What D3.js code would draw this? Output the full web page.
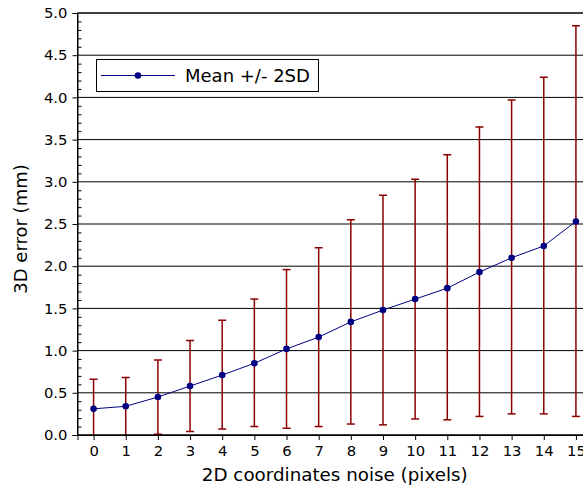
<!DOCTYPE html>
<html>
<head>
<meta charset="utf-8">
<script src="https://cdn.jsdelivr.net/npm/d3@7"></script>
<style>
  body { margin: 0; background: #fff; }
  svg { display: block; font-family: "DejaVu Sans", sans-serif; }
</style>
</head>
<body>
<svg id="chart" width="583" height="487"></svg>
<script>
// noise level (pixels)
const noise = [0, 1, 2, 3, 4, 5, 6, 7, 8, 9, 10, 11, 12, 13, 14, 15];
// mean 3D error (mm)
const meanErr = [0.31, 0.34, 0.45, 0.58, 0.71, 0.85, 1.02, 1.16, 1.34, 1.48, 1.61, 1.74, 1.93, 2.10, 2.24, 2.53];
// mean - 2SD and mean + 2SD
const lowErr = [-0.04, -0.01, 0.01, 0.04, 0.07, 0.10, 0.08, 0.10, 0.13, 0.12, 0.19, 0.18, 0.22, 0.25, 0.25, 0.22];
const highErr = [0.66, 0.68, 0.89, 1.12, 1.36, 1.61, 1.96, 2.22, 2.55, 2.84, 3.03, 3.32, 3.65, 3.97, 4.24, 4.85];
const yTicks = [0, 0.5, 1, 1.5, 2, 2.5, 3, 3.5, 4, 4.5, 5];

const margin = { left: 77.5, right: -9, top: 13, bottom: 52 };
const W = 583, H = 487;

const svg = d3.select("#chart");

const x = d3.scaleLinear()
    .domain([-0.5, 15.5])
    .range([margin.left, W - margin.right]);

const y = d3.scaleLinear()
    .domain([0, 5])
    .range([H - margin.bottom, margin.top]);

svg.append("defs").append("clipPath").attr("id", "plotclip")
  .append("rect")
    .attr("x", x.range()[0])
    .attr("y", y.range()[1])
    .attr("width", x.range()[1] - x.range()[0])
    .attr("height", y.range()[0] - y.range()[1]);

// horizontal grid
svg.append("g")
  .selectAll("line")
  .data(yTicks)
  .join("line")
    .attr("x1", x.range()[0])
    .attr("x2", x.range()[1])
    .attr("y1", d => y(d))
    .attr("y2", d => y(d))
    .attr("stroke", "#000")
    .attr("stroke-width", 1);

const plot = svg.append("g").attr("clip-path", "url(#plotclip)");

// error bars
const bars = plot.append("g").attr("stroke", "#8b0000").attr("stroke-width", 1.5);
bars.selectAll("line.bar")
  .data(noise)
  .join("line")
    .attr("class", "bar")
    .attr("x1", (d, i) => x(d))
    .attr("x2", (d, i) => x(d))
    .attr("y1", (d, i) => y(lowErr[i]))
    .attr("y2", (d, i) => y(highErr[i]));
bars.selectAll("line.caphi")
  .data(noise)
  .join("line")
    .attr("class", "caphi")
    .attr("x1", d => x(d) - 4)
    .attr("x2", d => x(d) + 4)
    .attr("y1", (d, i) => y(highErr[i]))
    .attr("y2", (d, i) => y(highErr[i]));
bars.selectAll("line.caplo")
  .data(noise)
  .join("line")
    .attr("class", "caplo")
    .attr("x1", d => x(d) - 4)
    .attr("x2", d => x(d) + 4)
    .attr("y1", (d, i) => y(lowErr[i]))
    .attr("y2", (d, i) => y(lowErr[i]));

// mean line
const line = d3.line()
    .x((d, i) => x(noise[i]))
    .y(d => y(d));

plot.append("path")
    .datum(meanErr)
    .attr("d", line)
    .attr("fill", "none")
    .attr("stroke", "#000080")
    .attr("stroke-width", 1);

plot.selectAll("circle")
  .data(meanErr)
  .join("circle")
    .attr("cx", (d, i) => x(noise[i]))
    .attr("cy", d => y(d))
    .attr("r", 3.3)
    .attr("fill", "#000080");

// frame
svg.append("rect")
    .attr("x", x.range()[0])
    .attr("y", y.range()[1])
    .attr("width", x.range()[1] - x.range()[0])
    .attr("height", y.range()[0] - y.range()[1])
    .attr("fill", "none")
    .attr("stroke", "#000")
    .attr("stroke-width", 1);

// y axis, major ticks outside, minor ticks inside
svg.append("g")
    .attr("transform", `translate(${x.range()[0]},0)`)
    .call(d3.axisLeft(y).tickValues(yTicks).tickFormat(d3.format(".1f")).tickSize(5).tickPadding(5));
const yMinor = d3.range(0, 50).map(d => d / 10).filter(d => Math.round(d * 10) % 5 != 0);
svg.append("g")
    .attr("transform", `translate(${x.range()[0]},0)`)
    .call(d3.axisLeft(y).tickValues(yMinor).tickFormat("").tickSize(-4))
    .call(g => g.select(".domain").remove());

// x axis
svg.append("g")
    .attr("transform", `translate(0,${y.range()[0]})`)
    .call(d3.axisBottom(x).tickValues(noise).tickFormat(d3.format("d")).tickSize(5).tickPadding(5.5));

svg.selectAll(".tick line").attr("stroke", "#000");
svg.selectAll(".domain").attr("stroke", "#000");
svg.selectAll(".tick text")
    .attr("font-family", "DejaVu Sans")
    .attr("font-size", 14.8)
    .attr("fill", "#000");

// axis titles
svg.append("text")
    .attr("x", (x.range()[0] + x.range()[1]) / 2)
    .attr("y", 481)
    .attr("text-anchor", "middle")
    .attr("font-size", 18.3)
    .text("2D coordinates noise (pixels)");

svg.append("text")
    .attr("transform", `translate(26.5,${(y.range()[0] + y.range()[1]) / 2 + 5}) rotate(-90)`)
    .attr("text-anchor", "middle")
    .attr("font-size", 18)
    .text("3D error (mm)");

// legend
const legend = svg.append("g");
legend.append("rect")
    .attr("x", 96.5).attr("y", 59.5)
    .attr("width", 222).attr("height", 32)
    .attr("fill", "#fff").attr("stroke", "#000");
legend.append("line")
    .attr("x1", 101).attr("x2", 175)
    .attr("y1", 75.5).attr("y2", 75.5)
    .attr("stroke", "#000080");
legend.append("circle")
    .attr("cx", 138).attr("cy", 75.5).attr("r", 3.3)
    .attr("fill", "#000080");
legend.append("text")
    .attr("x", 185).attr("y", 82)
    .attr("font-size", 18)
    .text("Mean +/- 2SD");
</script>
</body>
</html>
